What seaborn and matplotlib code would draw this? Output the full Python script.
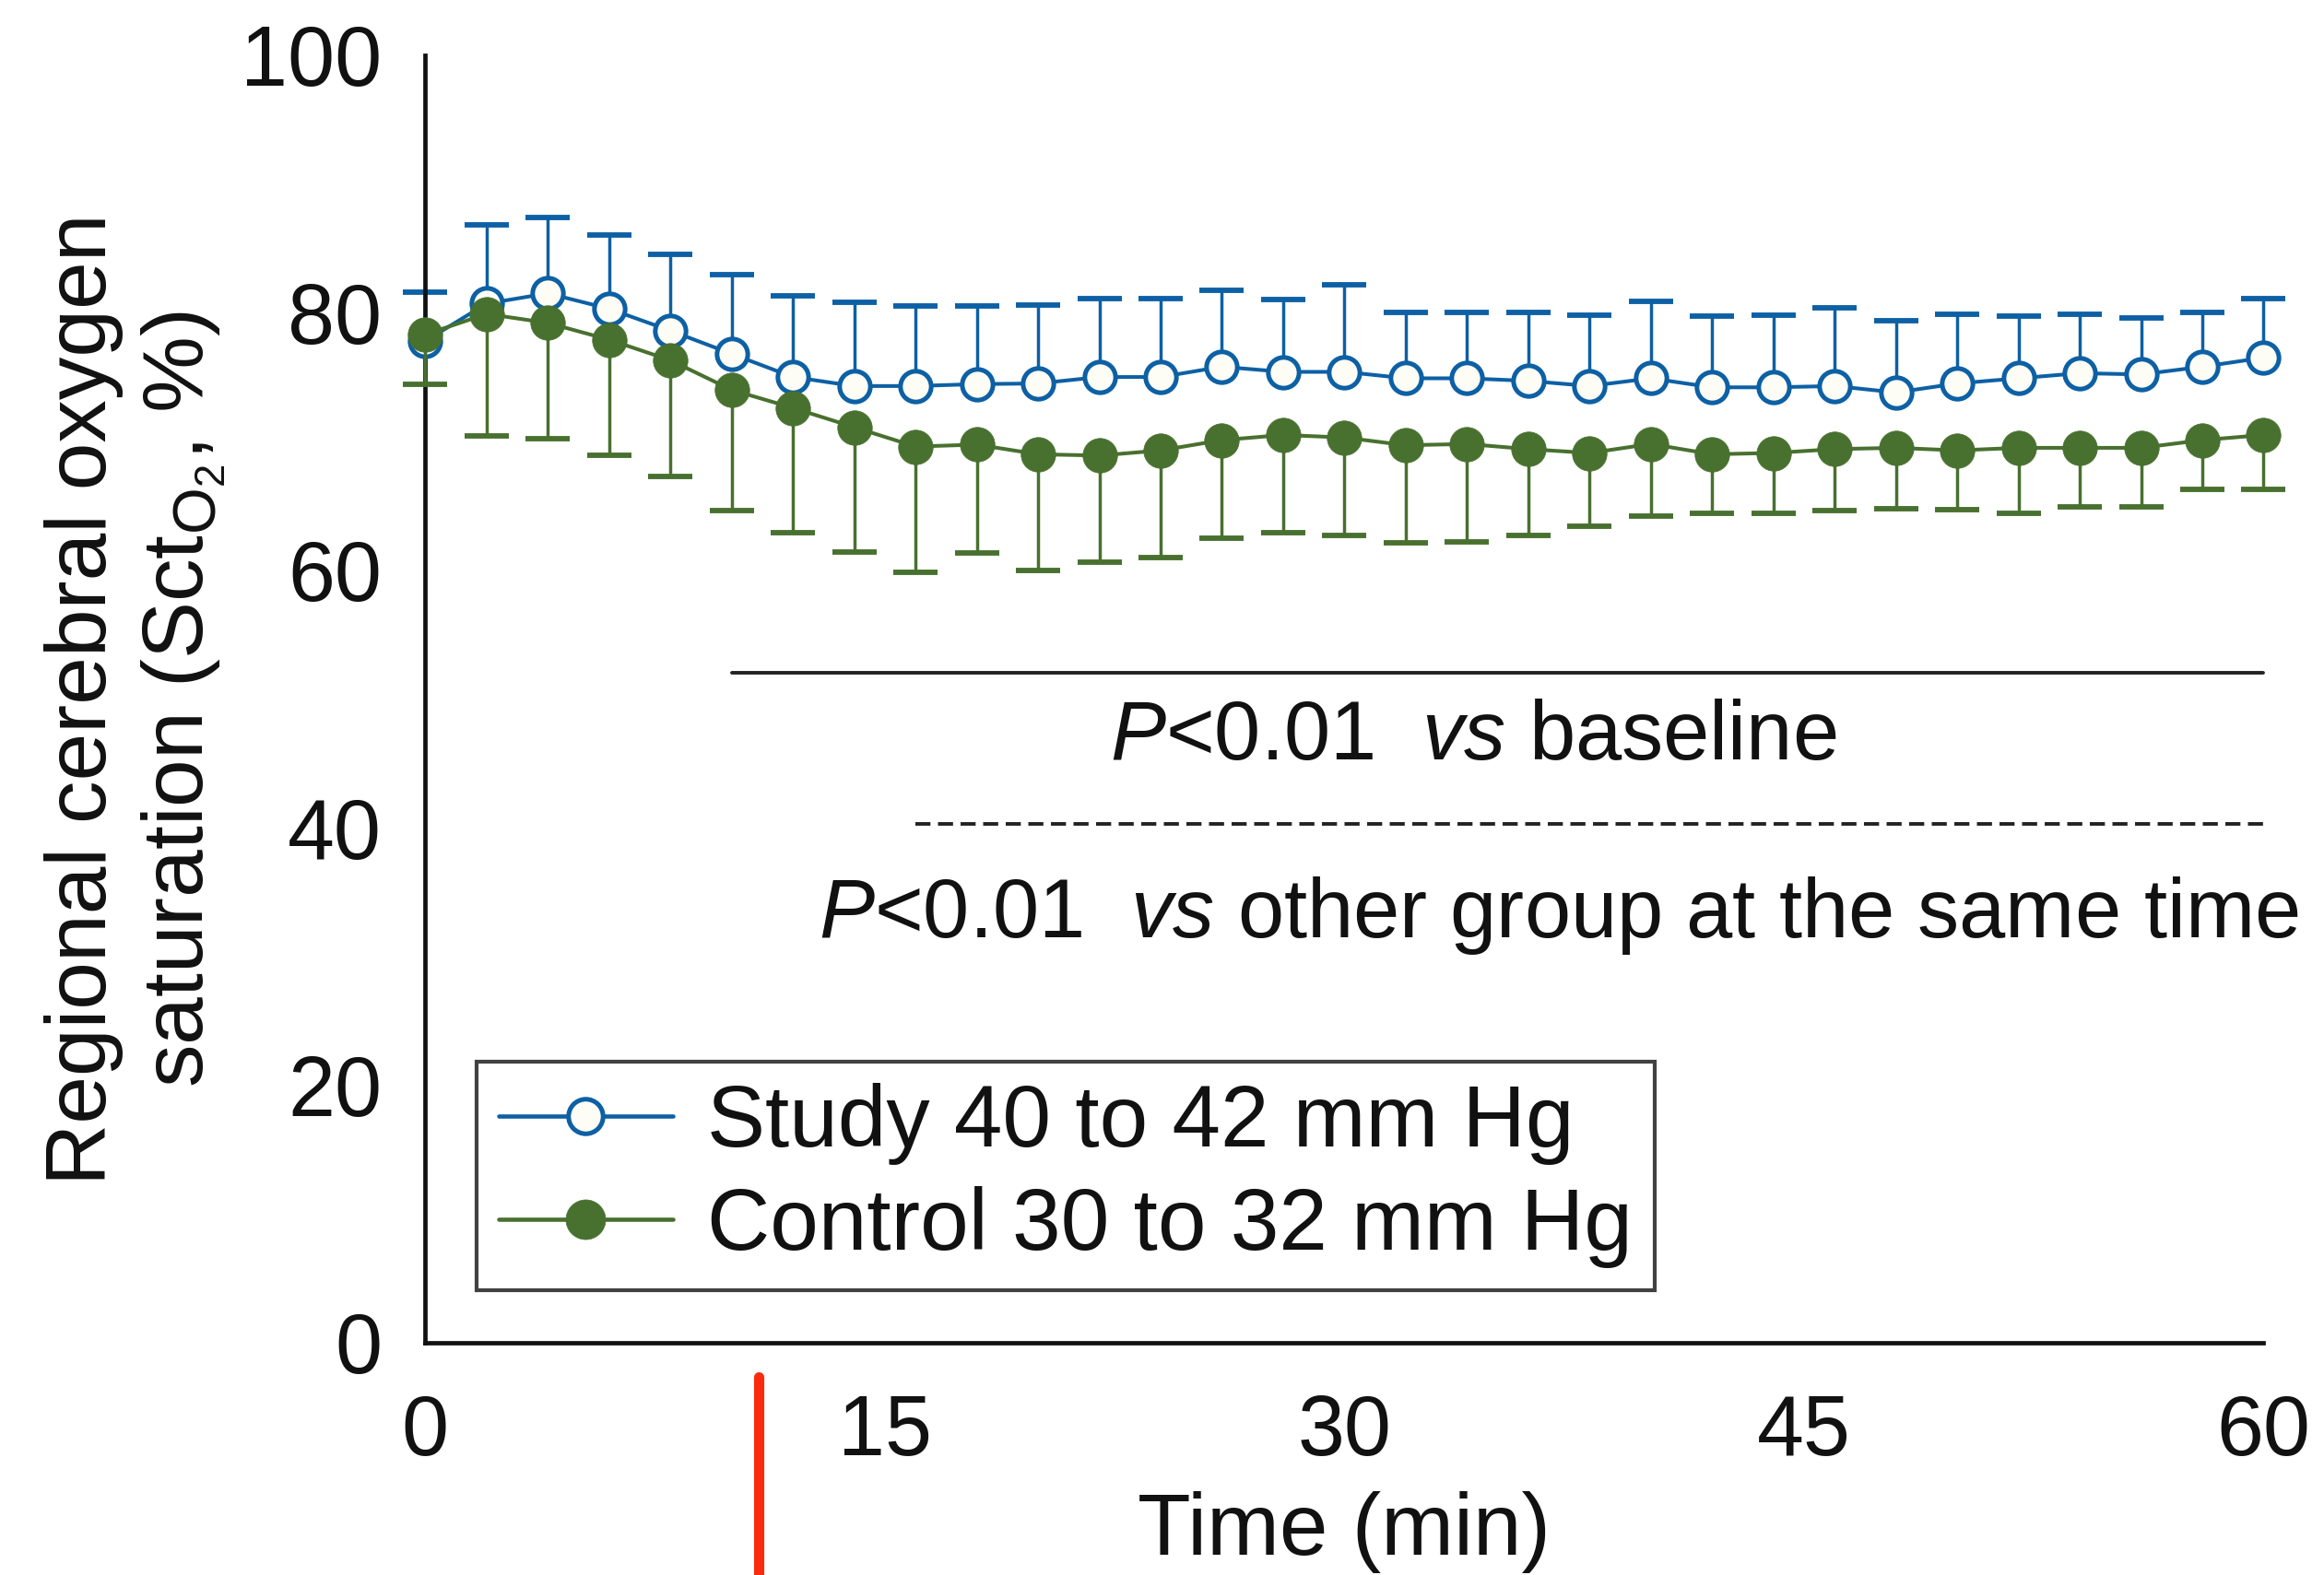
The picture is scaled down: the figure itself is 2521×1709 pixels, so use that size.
import numpy as np
import pandas as pd
import matplotlib
matplotlib.use("Agg")
import matplotlib.pyplot as plt
from matplotlib.lines import Line2D
import seaborn as sns

# ---- data ----
time_min = list(range(0, 61, 2))
study_mean = [77.8, 80.7, 81.5, 80.3, 78.6, 76.8, 75.0, 74.3, 74.3, 74.45, 74.5,
              75.0, 75.0, 75.8, 75.4, 75.4, 74.9, 74.9, 74.7, 74.3, 74.9,
              74.2, 74.2, 74.3, 73.8, 74.5, 74.9, 75.3, 75.2, 75.8, 76.5]
study_sd = [3.8, 6.1, 5.9, 5.7, 5.9, 6.15, 6.3, 6.5, 6.2, 6.05, 6.1,
            6.1, 6.1, 5.9, 5.6, 6.8, 5.1, 5.1, 5.3, 5.5, 6.0,
            5.5, 5.6, 6.1, 5.6, 5.4, 4.8, 4.6, 4.4, 4.2, 4.6]
control_mean = [78.3, 79.9, 79.2, 77.9, 76.3, 74.0, 72.6, 71.1, 69.6, 69.75, 69.0,
                68.9, 69.3, 70.1, 70.5, 70.3, 69.7, 69.8, 69.4, 69.1, 69.8,
                69.0, 69.1, 69.4, 69.5, 69.3, 69.5, 69.5, 69.5, 70.1, 70.5]
control_sd = [3.9, 9.5, 9.0, 9.0, 9.0, 9.4, 9.7, 9.7, 9.75, 8.45, 9.0,
              8.3, 8.3, 7.6, 7.6, 7.6, 7.6, 7.6, 6.7, 5.7, 5.6,
              4.6, 4.7, 4.8, 4.7, 4.6, 5.1, 4.6, 4.6, 3.8, 4.2]
series_labels = ["Study 40 to 42 mm Hg", "Control 30 to 32 mm Hg"]
x_ticks = [0, 15, 30, 45, 60]
y_ticks = [0, 20, 40, 60, 80, 100]
sig_baseline = [10, 60, 52]      # start, end, level
sig_group = [16, 60, 40.3]
sig_texts = ["$\\mathit{P}$<0.01  $\\mathit{vs}$ baseline",
             "$\\mathit{P}$<0.01  $\\mathit{vs}$ other group at the same time"]

# ---- style ----
sns.set_theme(style="white")
plt.rcParams['font.family'] = ['Liberation Sans', 'DejaVu Sans']
plt.rcParams['mathtext.fontset'] = 'custom'
plt.rcParams['mathtext.rm'] = 'Liberation Sans'
plt.rcParams['mathtext.it'] = 'Liberation Sans:italic'
plt.rcParams['mathtext.bf'] = 'Liberation Sans:bold'

BLUE = "#0d60a4"
GREEN = "#48702f"
FILL = "#fdfdf6"
INK = "#111111"
FS = 66

df = pd.DataFrame({"time": time_min, "study": study_mean, "control": control_mean})

fig = plt.figure(figsize=(25.21, 17.09), dpi=100)
ax = fig.add_axes([0.183, 0.1475, 0.791, 0.8175])

# error bars (one-sided)
def one_sided(mean, sd, color, upper, z):
    mean = np.asarray(mean); sd = np.asarray(sd)
    err = [np.zeros_like(sd), sd] if upper else [sd, np.zeros_like(sd)]
    _, caps, bars = ax.errorbar(time_min, mean, yerr=err, fmt='none', ecolor=color,
                                elinewidth=2.5, capsize=17, capthick=4.2, zorder=z,
                                clip_on=False)
    for c in caps:
        if np.allclose(c.get_ydata(), mean):
            c.set_visible(False)
        c.set_clip_on(False)
    for b in bars:
        b.set_clip_on(False)

one_sided(study_mean, study_sd, BLUE, True, 2)
one_sided(control_mean, control_sd, GREEN, False, 4)

sns.lineplot(data=df, x="time", y="study", ax=ax, color=BLUE, lw=2.9,
             marker="o", markersize=24, markerfacecolor=FILL,
             markeredgecolor=BLUE, markeredgewidth=3.6, clip_on=False, zorder=3)
sns.lineplot(data=df, x="time", y="control", ax=ax, color=GREEN, lw=2.9,
             marker="o", markersize=27, markerfacecolor=GREEN,
             markeredgecolor=GREEN, markeredgewidth=0.5, clip_on=False, zorder=5)

ax.set_xlim(0, 60)
ax.set_ylim(0, 100)
ax.set_xticks(x_ticks)
ax.set_yticks(y_ticks)
ax.tick_params(axis='both', direction='out', length=24, width=2.4, color=INK,
               labelsize=FS, labelcolor=INK)
ax.tick_params(axis='x', pad=16)
ax.tick_params(axis='y', pad=10)
for s in ["top", "right"]:
    ax.spines[s].set_visible(False)
for s in ["left", "bottom"]:
    ax.spines[s].set_linewidth(3.4)
    ax.spines[s].set_color(INK)

ax.set_xlabel("Time (min)", fontsize=68, color=INK, labelpad=14)
ax.set_ylabel("Regional cerebral oxygen\nsaturation (Sct$_{\\mathrm{O}_{2}}$, %)",
              fontsize=67, color=INK, labelpad=10, linespacing=1.25)

# significance annotations
ax.plot(sig_baseline[:2], [sig_baseline[2]] * 2, color='#222222', lw=2.8, clip_on=False)
ax.plot(sig_group[:2], [sig_group[2]] * 2, color='#222222', lw=2.8, ls=(0, (4.2, 2.1)),
        clip_on=False)
ax.text(34.2, 47.0, sig_texts[0], fontsize=65, ha='center', va='center', color=INK)
ax.text(37.0, 33.2, sig_texts[1], fontsize=65, ha='center', va='center', color=INK,
        clip_on=False)

# legend
handles = [Line2D([0], [0], color=BLUE, lw=3.3, marker='o', markersize=27,
                  markerfacecolor=FILL, markeredgecolor=BLUE, markeredgewidth=3.6),
           Line2D([0], [0], color=GREEN, lw=3.3, marker='o', markersize=31,
                  markerfacecolor=GREEN, markeredgecolor=GREEN, markeredgewidth=0.5)]
leg = ax.legend(handles, series_labels, loc='lower left', bbox_to_anchor=(0.028, 0.041),
                borderaxespad=0, fontsize=68, frameon=True, fancybox=False,
                handlelength=2.0, handletextpad=0.4, borderpad=0.25,
                labelspacing=0.24, edgecolor=INK)
leg.get_frame().set_linewidth(3.0)
for t in leg.get_texts():
    t.set_color(INK)

# red marker line below the axis
fig.add_artist(Line2D([823 / 2521, 823 / 2521], [0, 1 - 1494 / 1709],
                      transform=fig.transFigure, color="#fb2a0c", lw=8))

fig.savefig("out.png", dpi=100, facecolor='white')
